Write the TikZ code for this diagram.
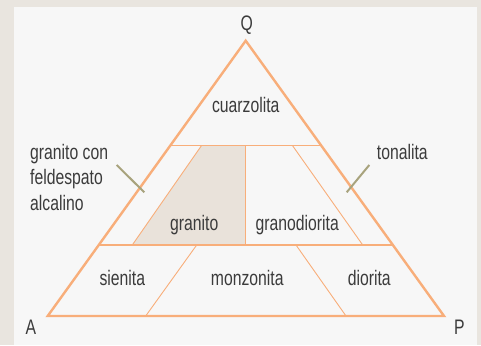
\documentclass[tikz,border=0pt]{standalone}
\usepackage{fontspec}
\setmainfont{Liberation Sans}[FakeStretch=0.75]
\usetikzlibrary{calc}
\definecolor{outerbg}{HTML}{E9E5DF}
\definecolor{panel}{HTML}{F7F7F7}
\definecolor{peach}{HTML}{F8AE7A}
\definecolor{granfill}{HTML}{E9E2DA}
\definecolor{tickc}{HTML}{A8A37D}
\definecolor{txt}{HTML}{3B3B3B}
\begin{document}
\begin{tikzpicture}[x=1pt,y=-1pt,
  lbl/.style={font=\fontsize{21}{25.7}\selectfont, text=txt, inner sep=0pt},
  thinline/.style={draw=peach, line width=0.9pt},
  hline/.style={draw=peach, line width=1.3pt},
  outline/.style={draw=peach, line width=2.4pt, line join=miter},
  tickline/.style={draw=tickc, line width=2pt}]
\useasboundingbox (0,0) rectangle (481,345);
\fill[outerbg] (0,0) rectangle (481,345);
\fill[panel] (14,6.7) rectangle (476.7,345);
\coordinate (Q) at (245.7,40.7);
\coordinate (A) at (47.7,316);
\coordinate (P) at (444,316);
\coordinate (L1) at ($(A)!0.62!(Q)$);
\coordinate (R1) at ($(P)!0.62!(Q)$);
\coordinate (L2) at ($(A)!0.258!(Q)$);
\coordinate (R2) at ($(P)!0.258!(Q)$);
% granito field
\coordinate (g1) at (201.7,145.3);
\coordinate (g2) at (245.7,145.3);
\coordinate (g3) at (245.7,245);
\coordinate (g4) at (132.3,245);
\fill[granfill] (g1) -- (g2) -- (g3) -- (g4) -- cycle;
\draw[thinline] (g1) -- (g4);
\draw[hline] (g2) -- (g3);
\coordinate (d1) at (292.3,145.3);
\coordinate (d2) at (362.7,245);
\draw[thinline] (d1) -- (d2);
\coordinate (s1) at (196.7,245);
\coordinate (s2) at (145.7,316);
\coordinate (m1) at (296,245);
\coordinate (m2) at (346,316);
\draw[thinline] (s1) -- (s2);
\draw[thinline] (m1) -- (m2);
\draw[hline] (L1) -- (R1);
\draw[hline] (L2) -- (R2);
\draw[outline] (A) -- (P) -- (Q) -- cycle;
% ticks
\coordinate (tl1) at (116.7,165);
\coordinate (tl2) at (144.3,192.3);
\coordinate (tr1) at (369.3,165);
\coordinate (tr2) at (346.7,192.3);
\draw[tickline] (tl1) -- (tl2);
\draw[tickline] (tr1) -- (tr2);
% labels
\node[lbl, anchor=base] (nQ) at (246.7,30.7) {Q};
\node[lbl, anchor=base] (nA) at (31,334.3) {A};
\node[lbl, anchor=base] (nP) at (459.3,334.3) {P};
\node[lbl, anchor=base] (cuar) at (245.7,112.7) {cuarzolita};
\node[lbl, anchor=base west] (gc1) at (30,159.3) {granito con};
\node[lbl, anchor=base west] (gc2) at (30,184.8) {feldespato};
\node[lbl, anchor=base west] (gc3) at (30,210.3) {alcalino};
\node[lbl, anchor=base west] (ton) at (376.7,159.3) {tonalita};
\node[lbl, anchor=base] (gran) at (194.3,230) {granito};
\node[lbl, anchor=base] (grdi) at (297.3,230) {granodiorita};
\node[lbl, anchor=base] (sien) at (122.3,285) {sienita};
\node[lbl, anchor=base] (monz) at (247.3,285) {monzonita};
\node[lbl, anchor=base] (dior) at (369.3,285) {diorita};
\end{tikzpicture}
\end{document}
